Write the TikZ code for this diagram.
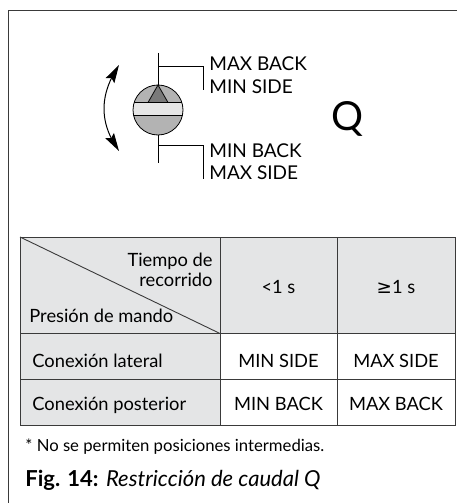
\documentclass[tikz,border=0pt]{standalone}
\usepackage{fontspec}
\setmainfont{Lato}
\newfontfamily\symfont{DejaVu Sans}
\usetikzlibrary{arrows.meta,bending}
\definecolor{framegray}{HTML}{3A3A3A}
\definecolor{cellgray}{HTML}{E4E5E6}
\definecolor{diskgray}{HTML}{B3B3B3}
\definecolor{bandgray}{HTML}{E6E6E6}
\definecolor{trigray}{HTML}{7A7A7A}
\begin{document}
\begin{tikzpicture}[x=1pt,y=-1pt,line width=0.8pt,
    lbl/.style={inner sep=0pt,font=\fontsize{19}{22}\selectfont},
    txt/.style={inner sep=0pt,font=\fontsize{18.3}{20}\selectfont},
    tabline/.style={draw=framegray,line width=0.9pt},
    swing/.style={line width=1pt,{Stealth[length=18pt,width=10pt,inset=3pt]}-{Stealth[length=18pt,width=10pt,inset=3pt]}}]
    \useasboundingbox (0,0) rectangle (457,503);
    \draw[framegray,line width=1.2pt] (8.5,503) -- (8.5,10.5) -- (457,10.5);
    % knob
    \begin{scope}
        \clip (158,110) circle (25);
        \fill[diskgray] (130,80) rectangle (186,140);
        \fill[bandgray] (130,102.5) rectangle (186,115);
        \draw (130,102.5) -- (186,102.5) (130,115) -- (186,115);
    \end{scope}
    \draw[fill=trigray,line join=round] (158,85) -- (148,102.5) -- (168,102.5) -- cycle;
    \node[circle,draw,minimum size=50pt,inner sep=0pt] (disc) at (158,110) {};
    \coordinate (stemtop) at (158,53);
    \coordinate (stembot) at (158,163);
    \coordinate (uptap) at (158,66);
    \coordinate (lotap) at (158,145);
    \draw (stemtop) -- (disc.north);
    \draw (disc.south) -- (stembot);
    \draw (uptap) -| (203,90);
    \draw (lotap) -| (203,179);
    \node[lbl,anchor=west] (maxback) at (209,64) {MAX BACK};
    \node[lbl,anchor=west] (minside) at (209,87) {MIN SIDE};
    \node[lbl,anchor=west] (minback) at (209,151) {MIN BACK};
    \node[lbl,anchor=west] (maxside) at (209,173) {MAX SIDE};
    \node[inner sep=0pt,font=\fontsize{40}{40}\selectfont,anchor=base] (q) at (348,130) {Q};
    \coordinate (swtop) at (119,65);
    \coordinate (swbot) at (119,151);
    \draw[swing] (swtop) .. controls (99,95) and (99,123) .. (swbot);
    % table
    \fill[cellgray] (20,237) rectangle (455,333.5);
    \fill[cellgray] (20,333.5) rectangle (220,425);
    \draw[tabline] (20,237) rectangle (455,425);
    \draw[tabline] (20,333.5) -- (455,333.5) (20,379) -- (455,379)
        (220,237) -- (220,425) (337,237) -- (337,425);
    \draw[tabline] (20,237) -- (220,333.5);
    \node[txt,anchor=base east] (t1) at (213,266.5) {Tiempo de};
    \node[txt,anchor=base east] (t2) at (213,286) {recorrido};
    \node[txt,anchor=base west] (p1) at (29,322.5) {Presión de mando};
    \node[txt,anchor=base] (c1) at (278.5,293.3) {<1 s};
    \node[txt,anchor=base] (c2) at (396,293.3) {{\symfont ≥}1 s};
    \node[txt,anchor=base west] (r1) at (32,367.3) {Conexión lateral};
    \node[txt,anchor=base] (r1a) at (278.5,367.3) {MIN SIDE};
    \node[txt,anchor=base] (r1b) at (396,367.3) {MAX SIDE};
    \node[txt,anchor=base west] (r2) at (32,410.7) {Conexión posterior};
    \node[txt,anchor=base] (r2a) at (278.5,410.7) {MIN BACK};
    \node[txt,anchor=base] (r2b) at (396,410.7) {MAX BACK};
    % notes
    \node[inner sep=0pt,font=\fontsize{16.7}{18}\selectfont,anchor=base west] (note) at (25,451) {* No se permiten posiciones intermedias.};
    \node[inner sep=0pt,font=\fontsize{22}{24}\selectfont,anchor=base west] (cap) at (25,486.7) {\textbf{Fig. 14:} \textit{Restricción de caudal Q}};
\end{tikzpicture}
\end{document}
